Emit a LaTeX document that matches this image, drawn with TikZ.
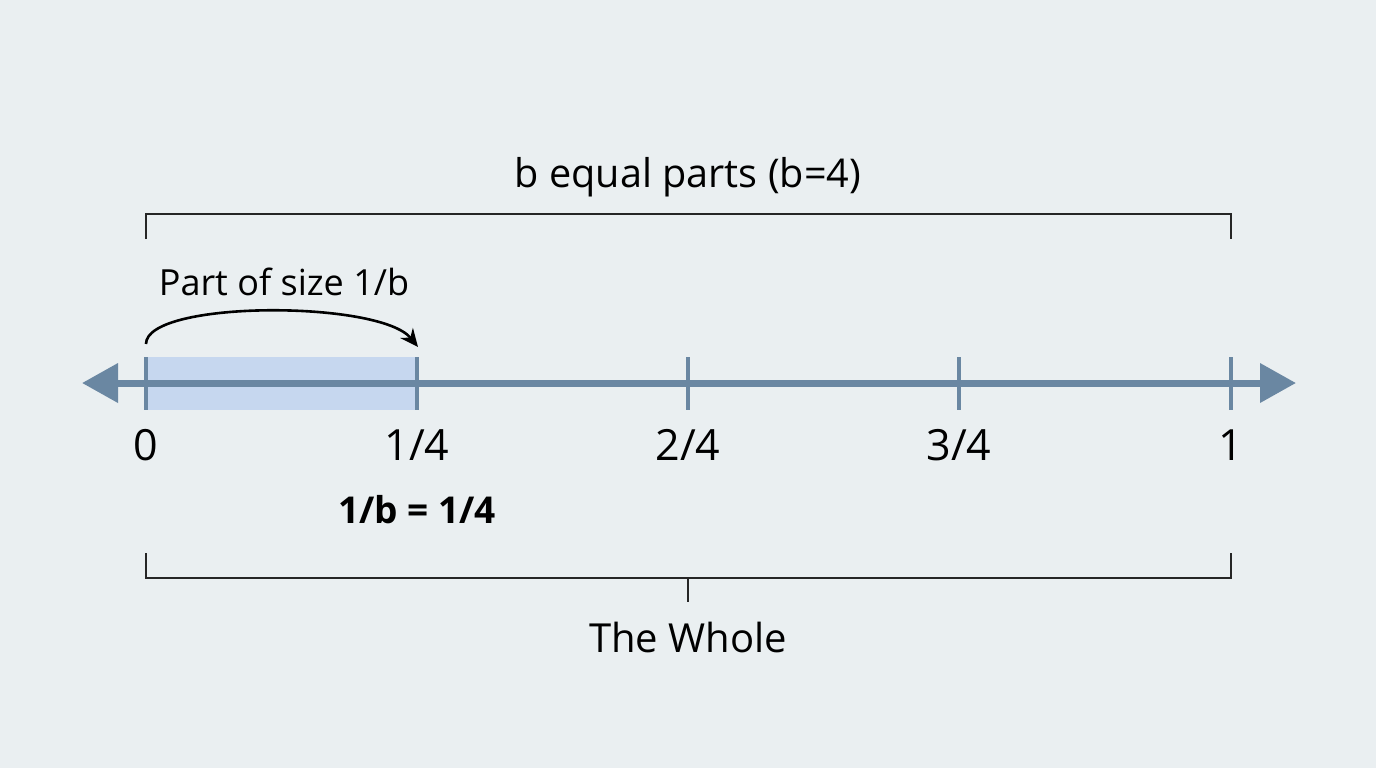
\documentclass[tikz,border=0pt]{standalone}
\usepackage{fontspec}
\setmainfont{Open Sans}
\usetikzlibrary{arrows.meta}
\definecolor{bgc}{HTML}{EAEFF1}
\definecolor{axisc}{HTML}{6A87A2}
\definecolor{hlc}{HTML}{C6D7EF}
\begin{document}
\begin{tikzpicture}[x=0.5pt,y=-0.5pt,
  lbl/.style={font=\fontsize{21.5}{25}\selectfont, text=black, inner sep=0},
  ttl/.style={font=\fontsize{18}{22}\selectfont, text=black, inner sep=0},
  brk/.style={draw=black!85, line width=1pt},
  tk/.style={draw=axisc, line width=1.8pt}]
\fill[bgc] (0,0) rectangle (1376,768);
\useasboundingbox (0,0) rectangle (1376,768);
% highlight
\fill[hlc] (146,357) rectangle (417,410);
% axis
\coordinate (L) at (82,383);
\coordinate (R) at (1296,383);
\draw[axisc, line width=3.5pt, {Triangle[length=18pt,width=19pt]}-{Triangle[length=18pt,width=19pt]}] (L) -- (R);
% ticks
\foreach \x/\n in {146/a,417/b,688/c,959/d,1231/e}{
  \coordinate (t\n) at (\x,357);
  \coordinate (u\n) at (\x,410);
  \draw[tk] (t\n) -- (u\n);
}
% labels
\node[lbl] (l0) at (146,445) {0};
\node[lbl] (l1) at (417,445) {1/4};
\node[lbl] (l2) at (688,445) {2/4};
\node[lbl] (l3) at (959,445) {3/4};
\node[lbl] (l4) at (1231,445) {1};
\node[lbl, font=\fontsize{18.5}{22}\selectfont\bfseries] (eq) at (417,510) {1/b = 1/4};
% top bracket
\coordinate (tb1) at (146,239);
\coordinate (tb2) at (146,214);
\coordinate (tb3) at (1231,214);
\coordinate (tb4) at (1231,239);
\draw[brk] (tb1) -- (tb2) -- (tb3) -- (tb4);
\node[ttl, font=\fontsize{19.8}{24}\selectfont] (top) at (688,177) {b equal parts (b=4)};
% bottom bracket
\coordinate (bb1) at (146,553);
\coordinate (bb2) at (146,578);
\coordinate (bb3) at (1231,578);
\coordinate (bb4) at (1231,553);
\coordinate (bm1) at (688,578);
\coordinate (bm2) at (688,602);
\draw[brk] (bb1) -- (bb2) -- (bb3) -- (bb4);
\draw[brk] (bm1) -- (bm2);
\node[lbl, font=\fontsize{20}{24}\selectfont] (whole) at (688,637) {The Whole};
% curved arrow
\node[ttl] (part) at (284,282) {Part of size 1/b};
\coordinate (cs) at (146,344);
\coordinate (ce) at (418,347);
\draw[black, line width=1.3pt, -{Stealth[length=9pt,width=8pt]}] (cs) .. controls (146,300) and (380,300) .. (ce);
\end{tikzpicture}
\end{document}
